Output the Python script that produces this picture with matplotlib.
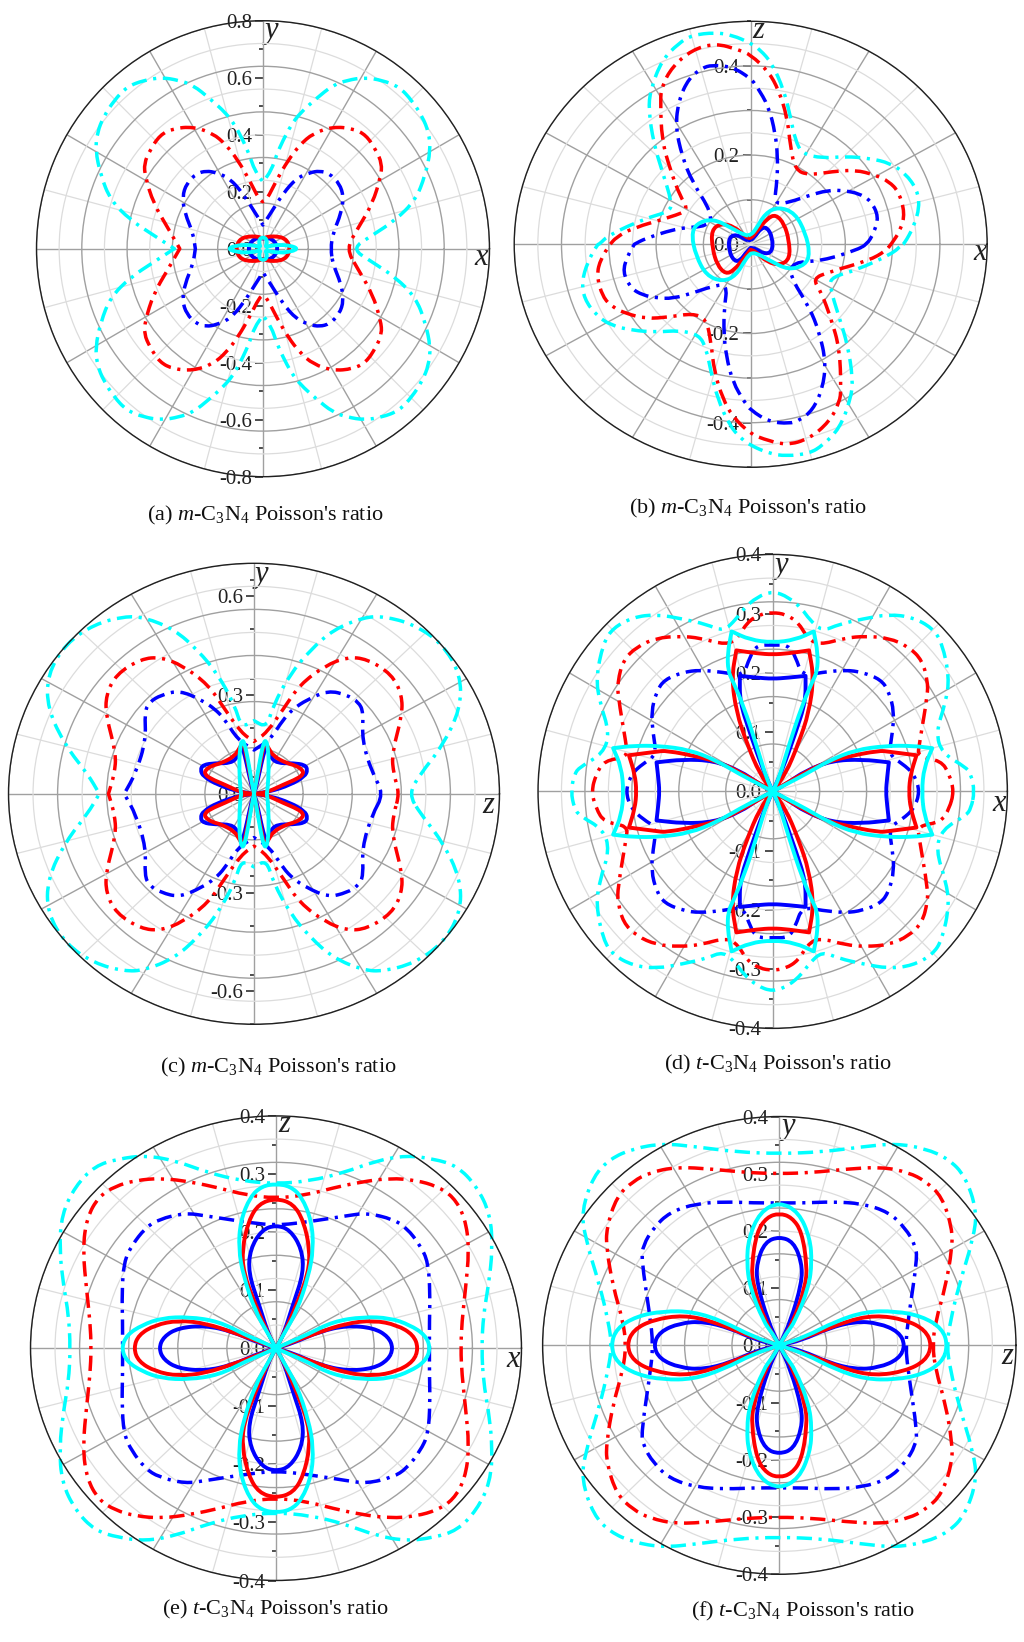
import numpy as np
import matplotlib
matplotlib.use("Agg")
import matplotlib.pyplot as plt
from matplotlib.path import Path
from matplotlib.patches import PathPatch

plt.rcParams['font.family'] = ['Liberation Serif', 'DejaVu Serif']
plt.rcParams['mathtext.fontset'] = 'custom'
plt.rcParams['mathtext.rm'] = 'Liberation Serif'
plt.rcParams['mathtext.it'] = 'Liberation Serif:italic'
plt.rcParams['axes.unicode_minus'] = False

# curves read off the picture as horizontal / vertical components of the ratio
# a repeated point is a sharp corner of the curve
# panel a, one quadrant of each curve
a_cyan_dash_x = [.313, .386, .469, .539, .573, .592, .585, .563, .526, .481, .421, .358, .298, .247, .187, .130, .099, .071, .047, .030, 0]
a_cyan_dash_y = [0, .047, .101, .171, .257, .346, .409, .463, .520, .568, .591, .601, .591, .574, .526, .475, .433, .381, .327, .276, .234]
a_red_dash_x = [.294, .335, .387, .416, .420, .399, .364, .317, .247, .177, .130, .089, .048, .013, 0]
a_red_dash_y = [0, .071, .159, .253, .299, .346, .399, .422, .428, .405, .364, .311, .241, .171, .165]
a_blue_dash_x = [.239, .247, .276, .285, .270, .235, .200, .165, .118, .071, .019, 0]
a_blue_dash_y = [0, .054, .124, .182, .229, .264, .273, .267, .247, .194, .112, .083]
a_blue_x = [.052, .045, .030, .015, 0]
a_blue_y = [0, .020, .034, .038, .035]
a_red_x = [.094, .090, .075, .050, .025, .010, 0]
a_red_y = [0, .020, .037, .043, .043, .040, .035]
a_cyan_x = [.123, .100, .060, .025, .008, .014, .012, 0]
a_cyan_y = [0, .010, .014, .010, .004, .020, .035, .040]

# panel b, half of each curve (the other half is turned by 180 degrees)
b_cyan_dash_x = [.324, .345, .357, .352, .327, .295, .250, .200, .151, .109, .094, .084, .070, .045, .020, 0, -.039, -.075, -.124, -.152, -.188, -.212, -.216, -.205, -.188, -.166, -.173, -.223, -.300, -.320]
b_cyan_dash_y = [0, .040, .084, .122, .159, .182, .193, .197, .193, .203, .234, .286, .346, .406, .436, .451, .469, .475, .469, .451, .413, .346, .301, .226, .167, .092, .073, .058, .021, 0]
b_red_dash_x = [.297, .317, .326, .313, .292, .264, .221, .172, .123, .094, .084, .077, .059, .038, 0, -.025, -.075, -.124, -.166, -.188, -.191, -.188, -.170, -.149, -.131, -.166, -.251, -.285, -.297]
b_red_dash_y = [0, .032, .070, .118, .141, .155, .167, .163, .155, .167, .219, .286, .346, .387, .425, .436, .451, .436, .398, .354, .324, .234, .167, .107, .077, .062, .036, .015, 0]
b_blue_dash_x = [.246, .260, .271, .253, .228, .200, .165, .116, .087, .049, .056, .057, .052, .038, .013, 0, -.039, -.082, -.103, -.131, -.152, -.159, -.145, -.124, -.082, -.089, -.152, -.223, -.246]
b_blue_dash_y = [0, .025, .062, .099, .114, .120, .122, .107, .096, .088, .144, .197, .249, .309, .354, .372, .398, .402, .395, .372, .324, .264, .197, .141, .070, .040, .037, .013, 0]
b_cyan_x = [0, .010, .031, .059, .094, .116, .125, .116, .080, .038, .010, 0]
b_cyan_y = [.021, .032, .070, .084, .070, .025, -.020, -.046, -.058, -.035, -.019, -.021]
b_red_x = [0, .014, .035, .053, .071, .081, .083, .063, .035, .011, 0]
b_red_y = [.012, .031, .058, .067, .046, .009, -.032, -.047, -.040, -.017, -.012]
b_blue_x = [0, .011, .021, .034, .046, .046, .028, .011, 0]
b_blue_y = [.008, .020, .035, .039, .016, -.017, -.022, -.010, -.008]

# panel c, one quadrant
c_cyan_dash_x = [.441, .474, .536, .589, .589, .536, .455, .370, .312, .227, .160, .103, .055, .036, 0]
c_cyan_dash_y = [0, .060, .143, .258, .363, .457, .515, .539, .536, .499, .436, .363, .269, .201, .222]
c_red_dash_x = [.415, .398, .393, .422, .422, .393, .322, .265, .203, .131, .084, .036, 0]
c_red_dash_y = [0, .060, .122, .237, .300, .363, .410, .415, .389, .332, .258, .185, .159]
c_blue_dash_x = [.370, .336, .308, .312, .298, .265, .212, .150, .112, .084, .046, 0]
c_blue_dash_y = [0, .065, .164, .248, .279, .300, .314, .285, .258, .227, .164, .133]
c_blue_x = [0, .046, .103, .145, .153, .145, .112, .065, .046, .036, .027, .017, .005, 0]
c_blue_y = [0, .007, .027, .053, .073, .088, .093, .093, .113, .147, .121, .071, .015, 0]
c_red_x = [0, .036, .084, .124, .141, .138, .119, .093, .055, .040, .030, .019, .008, 0]
c_red_y = [0, .004, .028, .046, .060, .073, .086, .093, .114, .142, .157, .101, .040, 0]
c_cyan_x = [.036, .039, .042, .041, .034, .027, .017, .006, 0]
c_cyan_y = [0, .015, .073, .134, .164, .154, .103, .032, 0]

# panel d, one quadrant
d_cyan_dash_x = [.344, .338, .329, .289, .278, .295, .301, .289, .272, .238, .198, .153, .113, .084, .062, .050, .027, 0]
d_cyan_dash_y = [0, .029, .041, .064, .099, .151, .192, .250, .276, .294, .299, .291, .282, .270, .291, .308, .328, .338]
d_red_dash_x = [.309, .301, .287, .247, .250, .264, .264, .255, .232, .198, .158, .124, .079, .059, .044, .022, 0]
d_red_dash_y = [0, .029, .052, .058, .081, .163, .186, .221, .244, .259, .262, .259, .247, .259, .285, .299, .302]
d_blue_dash_x = [.251, .241, .221, .198, .204, .207, .198, .184, .153, .124, .084, .050, .039, .027, 0]
d_blue_dash_y = [0, .029, .047, .061, .099, .134, .169, .189, .201, .205, .201, .195, .227, .247, .247]
d_cyan_x = [.254, .258, .272, .272, .238, .193, .141, .096, .056, .023, 0, .011, .027, .050, .068, .076, .077, .070, .070, .039, 0]
d_cyan_y = [0, .041, .073, .073, .077, .077, .070, .052, .029, .012, 0, .023, .076, .145, .186, .203, .233, .270, .270, .256, .251]
d_red_x = [.232, .235, .245, .245, .198, .181, .124, .084, .039, .010, 0, .022, .044, .062, .070, .062, .062, .027, 0]
d_red_y = [0, .029, .061, .061, .067, .069, .058, .047, .023, .006, 0, .029, .081, .134, .192, .238, .238, .233, .231]
d_blue_x = [.193, .195, .198, .198, .153, .101, .056, .022, 0, .016, .039, .056, .056, .056, .027, 0]
d_blue_y = [0, .023, .049, .049, .054, .052, .035, .012, 0, .035, .099, .151, .195, .195, .192, .190]

# panel e, one quadrant
e_cyan_dash_x = [.335, .338, .346, .353, .349, .327, .295, .257, .213, .164, .110, .055, 0]
e_cyan_dash_y = [0, .058, .106, .171, .231, .279, .314, .326, .332, .323, .302, .288, .283]
e_red_dash_x = [.301, .303, .308, .315, .308, .289, .262, .229, .186, .137, .093, .050, 0]
e_red_dash_y = [0, .046, .094, .171, .225, .261, .279, .289, .293, .286, .276, .264, .258]
e_blue_dash_x = [.250, .250, .251, .248, .235, .213, .191, .148, .115, .061, .017, 0]
e_blue_dash_y = [0, .046, .094, .148, .177, .207, .222, .233, .228, .219, .213, .213]
e_cyan_x = [.252, .243, .218, .186, .142, .093, .050, .017, 0, .012, .034, .053, .061, .058, .042, .023, 0]
e_cyan_y = [0, .023, .040, .052, .054, .046, .023, .008, 0, .023, .064, .124, .171, .219, .261, .279, .283]
e_red_x = [.232, .224, .197, .159, .115, .066, .028, 0, .012, .034, .053, .055, .045, .028, 0]
e_red_y = [0, .023, .040, .048, .043, .026, .011, 0, .023, .076, .130, .171, .219, .249, .258]
e_blue_x = [.191, .183, .159, .115, .072, .028, 0, .012, .028, .045, .042, .023, 0]
e_blue_y = [0, .020, .035, .039, .029, .009, 0, .023, .076, .130, .171, .204, .212]

# panel f, one quadrant
f_cyan_dash_x = [.283, .289, .303, .328, .334, .314, .286, .247, .196, .140, .072, 0]
f_cyan_dash_y = [0, .042, .103, .187, .236, .296, .326, .344, .353, .347, .338, .335]
f_red_dash_x = [.259, .264, .281, .292, .292, .275, .247, .219, .174, .112, .055, 0]
f_red_dash_y = [0, .042, .103, .169, .205, .260, .287, .302, .312, .308, .302, .300]
f_blue_dash_x = [.213, .219, .233, .230, .213, .185, .140, .089, .044, 0]
f_blue_dash_y = [0, .054, .151, .175, .205, .233, .248, .251, .249, .249]
f_cyan_x = [.285, .275, .241, .196, .145, .095, .044, 0, .011, .027, .050, .055, .052, .033, 0]
f_cyan_y = [0, .030, .051, .060, .059, .042, .015, 0, .020, .042, .103, .145, .187, .233, .251]
f_red_x = [.258, .247, .213, .162, .112, .055, 0, .024, .044, .047, .038, .021, 0]
f_red_y = [0, .027, .045, .053, .042, .018, 0, .042, .103, .139, .199, .224, .231]
f_blue_x = [.213, .202, .168, .128, .083, .038, 0, .019, .038, .038, .024, 0]
f_blue_y = [0, .024, .039, .042, .030, .009, 0, .042, .109, .145, .181, .190]

a_ticks = [-.8, -.6, -.4, -.2, 0, .2, .4, .6, .8]
a_labels = ['-0.8', '-0.6', '-0.4', '-0.2', '0.0', '0.2', '0.4', '0.6', '0.8']
b_ticks = [-.4, -.2, 0, .2, .4]
b_labels = ['-0.4', '-0.2', '0.0', '0.2', '0.4']
c_ticks = [-.6, -.3, 0, .3, .6]
c_labels = ['-0.6', '-0.3', '0.0', '0.3', '0.6']
t_ticks = [-.4, -.3, -.2, -.1, 0, .1, .2, .3, .4]
t_labels = ['-0.4', '-0.3', '-0.2', '-0.1', '0.0', '0.1', '0.2', '0.3', '0.4']

W, H = 1024, 1642


def join(parts, cusp):
    # stick the pieces together, a repeated point at a join stays only for a cusp
    pts = [tuple(p) for p in parts[0]]
    for part in parts[1:]:
        for i, p in enumerate(part):
            if i == 0 and not cusp and np.allclose(p, pts[-1]):
                continue
            pts.append(tuple(p))
    return np.array(pts)


def quad(x, y, cusp=False):
    # one quadrant to the whole curve, mirrored in both axes
    x = np.array(x)
    y = np.array(y)
    return join([np.c_[x, y], np.c_[-x[::-1], y[::-1]],
                 np.c_[-x, -y], np.c_[x[::-1], -y[::-1]]], cusp)


def half(x, y):
    x = np.array(x)
    y = np.array(y)
    return join([np.c_[x, y], np.c_[-x, -y]], True)


def curve_path(pts):
    # closed quadratic curve with the read points as control points
    pts = [p for p in pts]
    if np.allclose(pts[0], pts[-1]):
        pts = pts[:-1]
    full = []
    for p in pts:
        full.append(p)
        if p[0] == 0 and p[1] == 0:
            full.append(p)  # every curve that reaches the centre goes right through it
    pts = np.array(full)
    n = len(pts)
    mids = (pts + np.roll(pts, -1, axis=0)) / 2
    verts = [mids[-1]]
    codes = [Path.MOVETO]
    for i in range(n):
        verts += [pts[i], mids[i]]
        codes += [Path.CURVE3, Path.CURVE3]
    verts = np.array(verts)
    theta = np.mod(np.arctan2(verts[:, 1], verts[:, 0]), 2 * np.pi)
    return Path(np.c_[theta, np.hypot(verts[:, 0], verts[:, 1])], codes)


def panel(cx, cy, rx, ry, rmax, ticks, labels, minor_step, curves, names, cap):
    rect = [(cx - rx) / W, 1 - (cy + ry) / H, 2 * rx / W, 2 * ry / H]

    # plain axes underneath for the vertical scale
    base = fig.add_axes(rect, frameon=False, zorder=0)
    base.set_xlim(-rmax, rmax)
    base.set_ylim(-rmax, rmax)
    base.xaxis.set_visible(False)
    for s in ['top', 'right', 'bottom']:
        base.spines[s].set_visible(False)
    base.spines['left'].set_position(('data', 0))
    base.spines['left'].set_linewidth(1.5)
    base.spines['left'].set_color('#303030')
    base.set_yticks(ticks)
    base.set_yticklabels(labels, fontsize=15, color='#202020')
    base.set_yticks(np.arange(-rmax, rmax + 1e-6, minor_step), minor=True)
    base.tick_params(axis='y', which='major', length=6, width=1.2, pad=2, color='#303030')
    base.tick_params(axis='y', which='minor', length=3, width=1.2, color='#303030')

    ax = fig.add_axes(rect, projection='polar', zorder=1)
    ax.set_aspect('auto')
    ax.patch.set_alpha(0)
    for pts, col, dashed in curves:
        if dashed:
            ax.add_patch(PathPatch(curve_path(pts), fill=False, ec=col, lw=2.5, ls=(0, (4.4, 1.9, 0.9, 1.9)),
                                   clip_on=False, capstyle='butt', joinstyle='round'))
        else:
            ax.add_patch(PathPatch(curve_path(pts), fill=False, ec=col, lw=2.8, ls='-',
                                   clip_on=False, capstyle='butt', joinstyle='round'))
    ax.set_xlim(0, 2 * np.pi)
    ax.set_ylim(0, rmax)
    ax.set_xticks(np.radians(np.arange(0, 360, 30)))
    ax.set_xticks(np.radians(np.arange(15, 360, 30)), minor=True)
    ax.set_yticks(np.linspace(rmax / 5, rmax, 5))
    ax.set_yticks(np.linspace(rmax / 10, rmax * 9 / 10, 5), minor=True)
    ax.set_xticklabels([])
    ax.set_yticklabels([])
    ax.tick_params(which='both', length=0)
    ax.grid(which='major', color='#a0a0a0', lw=1.0)
    ax.grid(which='minor', color='#dcdcdc', lw=0.9)
    ax.set_axisbelow(True)
    ax.spines['polar'].set_color('#202020')
    ax.spines['polar'].set_linewidth(1.0)

    for nm, px, py in names:
        base.text(px, py, nm, fontsize=22, style='italic', ha='center', va='center', color='#202020')
    fig.text(cap[0] / W, 1 - (cap[1] + 2) / H, cap[2], fontsize=16, ha='center', va='center', color='#101010')


fig = plt.figure(figsize=(W / 100, H / 100), dpi=100)
BLUE, RED, CYAN = '#0000ff', '#ff0000', '#00ffff'

panel(263, 248.7, 226.5, 228, .8, a_ticks, a_labels, .1, [
    (quad(a_blue_dash_x, a_blue_dash_y, True), BLUE, True),
    (quad(a_red_dash_x, a_red_dash_y, True), RED, True),
    (quad(a_cyan_dash_x, a_cyan_dash_y, True), CYAN, True),
    (quad(a_blue_x, a_blue_y), BLUE, False),
    (quad(a_red_x, a_red_y), RED, False),
    (quad(a_cyan_x, a_cyan_y), CYAN, False),
], [('y', .028, .765), ('x', .771, -.03)],
    (265, 513, r"(a) $\mathit{m}$-C$_3$N$_4$ Poisson's ratio"))

panel(750.7, 244.3, 236.5, 223, .5, b_ticks, b_labels, .1, [
    (half(b_blue_dash_x, b_blue_dash_y), BLUE, True),
    (half(b_red_dash_x, b_red_dash_y), RED, True),
    (half(b_cyan_dash_x, b_cyan_dash_y), CYAN, True),
    (half(b_blue_x, b_blue_y), BLUE, False),
    (half(b_red_x, b_red_y), RED, False),
    (half(b_cyan_x, b_cyan_y), CYAN, False),
], [('z', .016, .479), ('x', .484, -.018)],
    (748, 506, r"(b) $\mathit{m}$-C$_3$N$_4$ Poisson's ratio"))

panel(254, 793.8, 245.5, 230.5, .7, c_ticks, c_labels, .15, [
    (quad(c_blue_dash_x, c_blue_dash_y, True), BLUE, True),
    (quad(c_red_dash_x, c_red_dash_y, True), RED, True),
    (quad(c_cyan_dash_x, c_cyan_dash_y, True), CYAN, True),
    (quad(c_blue_x, c_blue_y), BLUE, False),
    (quad(c_red_x, c_red_y), RED, False),
    (quad(c_cyan_x, c_cyan_y), CYAN, False),
], [('y', .022, .666), ('z', .668, -.035)],
    (278.5, 1065, r"(c) $\mathit{m}$-C$_3$N$_4$ Poisson's ratio"))

panel(772.7, 791.4, 234.7, 237, .4, t_ticks, t_labels, .05, [
    (quad(d_blue_dash_x, d_blue_dash_y), BLUE, True),
    (quad(d_red_dash_x, d_red_dash_y), RED, True),
    (quad(d_cyan_dash_x, d_cyan_dash_y), CYAN, True),
    (quad(d_blue_x, d_blue_y), BLUE, False),
    (quad(d_red_x, d_red_y), RED, False),
    (quad(d_cyan_x, d_cyan_y), CYAN, False),
], [('y', .015, .381), ('x', .386, -.020)],
    (778, 1062, r"(d) $\mathit{t}$-C$_3$N$_4$ Poisson's ratio"))

panel(276, 1348.2, 245.5, 232.3, .4, t_ticks, t_labels, .05, [
    (quad(e_blue_dash_x, e_blue_dash_y), BLUE, True),
    (quad(e_red_dash_x, e_red_dash_y), RED, True),
    (quad(e_cyan_dash_x, e_cyan_dash_y), CYAN, True),
    (quad(e_blue_x, e_blue_y), BLUE, False),
    (quad(e_red_x, e_red_y), RED, False),
    (quad(e_cyan_x, e_cyan_y), CYAN, False),
], [('z', .014, .385), ('x', .386, -.019)],
    (275, 1607, r"(e) $\mathit{t}$-C$_3$N$_4$ Poisson's ratio"))

panel(779.3, 1345.4, 236.7, 228.9, .4, t_ticks, t_labels, .05, [
    (quad(f_blue_dash_x, f_blue_dash_y), BLUE, True),
    (quad(f_red_dash_x, f_red_dash_y), RED, True),
    (quad(f_cyan_dash_x, f_cyan_dash_y), CYAN, True),
    (quad(f_blue_x, f_blue_y), BLUE, False),
    (quad(f_red_x, f_red_y), RED, False),
    (quad(f_cyan_x, f_cyan_y), CYAN, False),
], [('y', .015, .382), ('z', .385, -.019)],
    (803, 1609, r"(f) $\mathit{t}$-C$_3$N$_4$ Poisson's ratio"))

plt.savefig('out.png', dpi=100)
